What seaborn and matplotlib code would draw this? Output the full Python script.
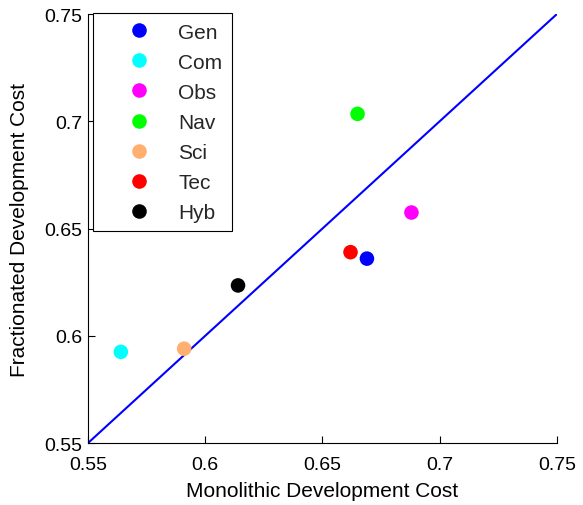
import matplotlib
matplotlib.use("Agg")
import matplotlib.pyplot as plt
import seaborn as sns
import pandas as pd

categories = ["Gen", "Com", "Obs", "Nav", "Sci", "Tec", "Hyb"]
monolithic = [0.669, 0.564, 0.688, 0.665, 0.591, 0.662, 0.614]
fractionated = [0.636, 0.5925, 0.6575, 0.7035, 0.594, 0.639, 0.6235]
colors = ["#0000ff", "#00ffff", "#ff00ff", "#00ff00", "#ffb070", "#ff0000", "#000000"]
ticks = [0.55, 0.6, 0.65, 0.7, 0.75]
tick_labels = ["0.55", "0.6", "0.65", "0.7", "0.75"]

sns.set_style("white")
plt.rcParams["font.family"] = ["Liberation Sans", "DejaVu Sans"]

df = pd.DataFrame({"cat": categories, "mono": monolithic, "frac": fractionated})

fig = plt.figure(figsize=(5.83, 5.06), dpi=100)
ax = fig.add_axes([0.151, 0.1225, 0.804, 0.8475])

ax.plot([0.55, 0.75], [0.55, 0.75], color="#0000ff", lw=1.5, zorder=1)
sns.scatterplot(data=df, x="mono", y="frac", hue="cat", palette=colors,
                hue_order=categories, s=110, edgecolor="none", ax=ax, zorder=3)

ax.set_xlim(0.55, 0.75)
ax.set_ylim(0.55, 0.75)
ax.set_xticks(ticks)
ax.set_xticklabels(tick_labels)
ax.set_yticks(ticks)
ax.set_yticklabels(tick_labels)
ax.tick_params(direction="in", length=5, width=0.8, labelsize=14, colors="black",
               bottom=True, left=True, top=False, right=False)
ax.tick_params(axis="x", pad=9)
ax.tick_params(axis="y", pad=4)
for side in ["top", "right"]:
    ax.spines[side].set_visible(False)
for side in ["left", "bottom"]:
    ax.spines[side].set_color("black")
    ax.spines[side].set_linewidth(0.8)

ax.set_xlabel("Monolithic Development Cost", fontsize=15, labelpad=6, color="black")
ax.set_ylabel("Fractionated Development Cost", fontsize=15, labelpad=11, color="black")

leg = ax.legend(loc="upper left", bbox_to_anchor=(0.0107, 1.002), fontsize=15,
                frameon=True, fancybox=False, edgecolor="black",
                labelspacing=0.53, handlelength=3.5, handletextpad=0.15,
                borderpad=0.45, borderaxespad=0.0)
leg.get_frame().set_linewidth(0.8)
leg.get_frame().set_alpha(1.0)
for h in leg.legend_handles:
    h.set_markersize(10.5)

fig.savefig("out.png", dpi=100)
